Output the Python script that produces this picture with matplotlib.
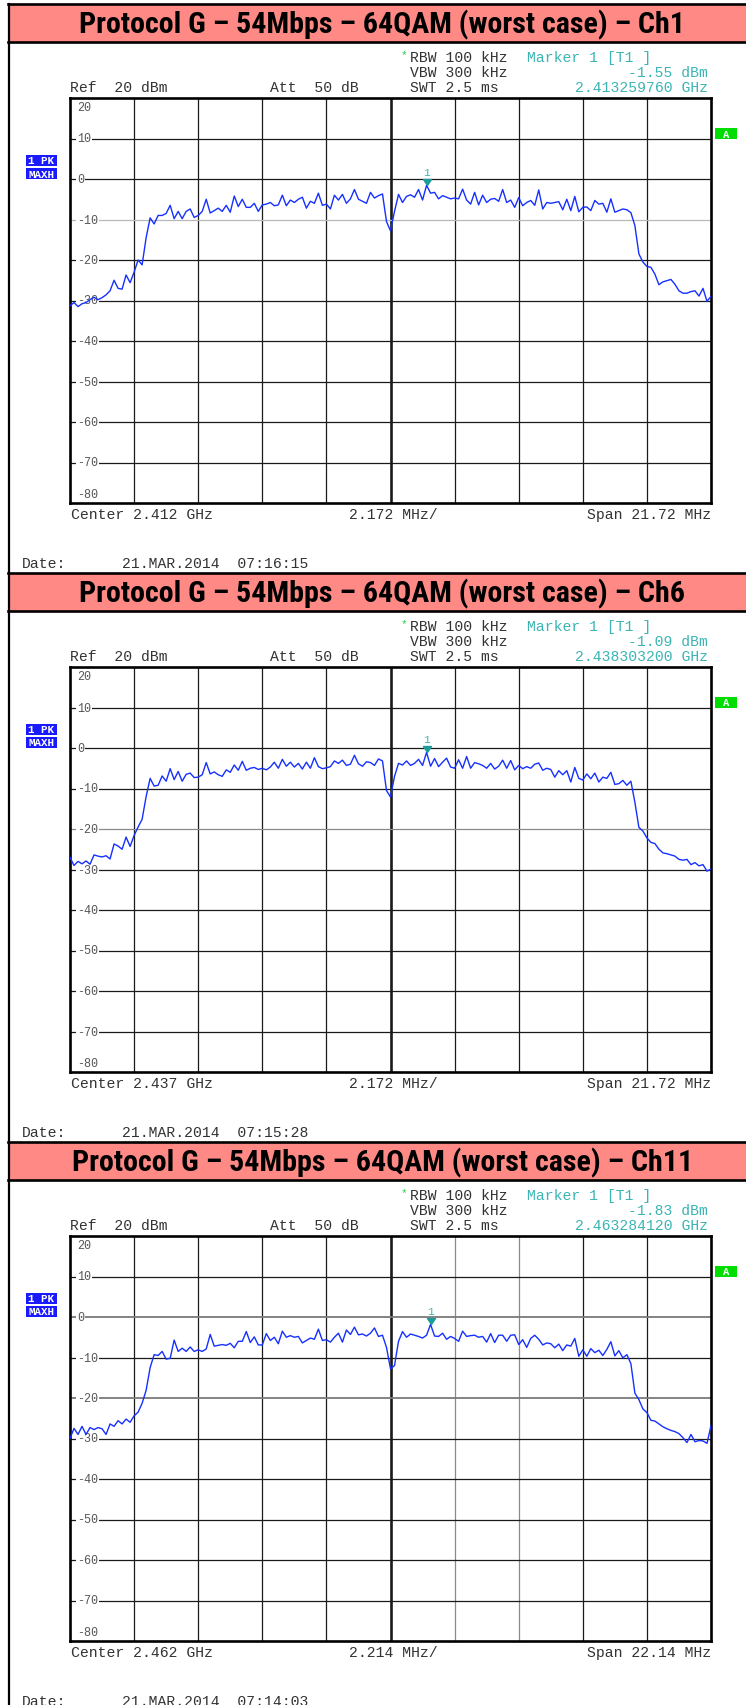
import numpy as np
import matplotlib
matplotlib.use("Agg")
import matplotlib.pyplot as plt
from matplotlib.patches import Rectangle
from matplotlib.lines import Line2D
from matplotlib import font_manager
from matplotlib.textpath import TextPath

# ---------------- data ----------------
titles = ["Protocol G \u2013 54Mbps \u2013 64QAM (worst case) \u2013 Ch1",
          "Protocol G \u2013 54Mbps \u2013 64QAM (worst case) \u2013 Ch6",
          "Protocol G \u2013 54Mbps \u2013 64QAM (worst case) \u2013 Ch11"]
centers_mhz = [2412.0, 2437.0, 2462.0]
center_labels = ["Center 2.412 GHz", "Center 2.437 GHz", "Center 2.462 GHz"]
spans_mhz = [21.72, 21.72, 22.14]
div_labels = ["2.172 MHz/", "2.172 MHz/", "2.214 MHz/"]
span_labels = ["Span 21.72 MHz", "Span 21.72 MHz", "Span 22.14 MHz"]
marker_levels = ["-1.55 dBm", "-1.09 dBm", "-1.83 dBm"]
marker_freqs = ["2.413259760 GHz", "2.438303200 GHz", "2.463284120 GHz"]
dates = ["21.MAR.2014  07:16:15", "21.MAR.2014  07:15:28", "21.MAR.2014  07:14:03"]
ref_level_db = 20
range_db = 100
y_tick_values = [20, 10, 0, -10, -20, -30, -40, -50, -60, -70, -80]

trace_ch1 = [
    -31.3, -30.5, -31.5, -30.8, -30.5, -29.8, -29.2, -29.8, -29.3, -28.6,
    -27.6, -25.0, -27.0, -27.2, -23.7, -25.6, -23.0, -20.0, -21.2, -14.5,
    -9.6, -11.1, -9.0, -9.0, -8.5, -6.5, -9.8, -8.0, -9.8, -8.0,
    -7.4, -9.5, -9.0, -8.0, -5.0, -8.4, -7.8, -7.2, -8.0, -6.5,
    -8.2, -4.2, -6.8, -5.0, -7.0, -7.0, -6.0, -8.0, -6.4, -6.2,
    -5.8, -6.6, -6.4, -4.0, -6.6, -5.2, -5.8, -5.0, -4.5, -7.2,
    -5.5, -6.0, -3.5, -6.5, -6.2, -7.4, -4.0, -5.2, -3.8, -6.0,
    -4.9, -2.6, -5.0, -5.5, -6.0, -3.3, -4.7, -4.1, -3.7, -10.5,
    -12.8, -8.0, -3.8, -5.8, -4.3, -3.9, -4.5, -2.6, -5.2, -1.55,
    -3.5, -3.3, -4.9, -4.1, -4.5, -4.9, -4.7, -4.9, -2.5, -5.2,
    -6.2, -3.3, -6.4, -4.0, -5.8, -5.0, -4.8, -5.5, -2.6, -5.8,
    -5.2, -7.0, -4.6, -6.6, -5.8, -5.3, -6.5, -2.7, -7.4, -5.8,
    -6.0, -5.8, -5.6, -7.6, -5.0, -7.8, -4.3, -8.1, -7.0, -6.9,
    -7.8, -5.3, -6.2, -6.0, -8.2, -4.9, -8.2, -7.8, -7.4, -7.6,
    -8.3, -11.5, -18.5, -20.5, -21.6, -21.8, -23.5, -26.1, -25.4, -25.1,
    -24.8, -26.0, -27.6, -28.2, -28.2, -27.8, -27.6, -28.9, -27.0, -30.2,
    -29.0]

trace_ch6 = [
    -27.0, -29.0, -28.0, -28.6, -27.9, -28.7, -26.4, -26.7, -26.9, -26.6,
    -27.4, -23.7, -24.2, -25.0, -22.0, -24.3, -21.6, -19.5, -17.6, -12.0,
    -7.5, -9.4, -9.2, -6.9, -8.2, -5.1, -7.8, -5.8, -8.2, -6.5,
    -6.2, -7.3, -7.2, -6.6, -3.6, -6.4, -5.9, -6.6, -7.0, -5.4,
    -6.0, -4.2, -5.5, -3.3, -5.5, -5.0, -4.8, -5.3, -5.0, -5.4,
    -4.7, -3.5, -5.0, -2.8, -4.5, -3.5, -4.7, -3.8, -5.2, -3.5,
    -5.0, -2.4, -4.6, -5.1, -4.9, -4.6, -3.2, -3.8, -3.0, -4.3,
    -4.0, -1.8, -3.9, -4.5, -3.4, -3.6, -4.3, -2.7, -3.2, -10.5,
    -12.1, -7.0, -3.8, -4.2, -3.2, -4.3, -3.8, -2.8, -4.3, -1.09,
    -4.5, -2.6, -4.6, -3.5, -2.5, -4.7, -5.0, -2.9, -5.0, -2.1,
    -5.0, -3.6, -3.9, -4.3, -5.0, -3.8, -5.2, -4.5, -3.0, -5.0,
    -3.1, -5.4, -4.3, -5.1, -4.6, -5.0, -4.0, -3.7, -5.5, -5.0,
    -5.3, -7.2, -5.6, -6.6, -5.6, -8.4, -4.8, -7.5, -7.9, -6.4,
    -7.6, -6.2, -8.4, -7.2, -7.5, -6.0, -9.0, -8.8, -8.0, -9.2,
    -8.2, -13.4, -19.6, -20.5, -22.2, -23.3, -23.6, -25.0, -25.9, -26.1,
    -26.4, -26.7, -27.5, -27.7, -27.5, -28.8, -28.3, -29.1, -28.8, -30.4,
    -29.9]

trace_ch11 = [
    -30.0, -27.5, -29.0, -27.0, -29.0, -27.3, -27.8, -27.3, -27.6, -29.0,
    -26.4, -27.0, -25.6, -26.4, -25.2, -26.0, -24.4, -23.5, -21.3, -18.1,
    -12.5, -9.3, -9.5, -8.5, -10.4, -10.2, -5.7, -8.5, -7.7, -8.5,
    -7.4, -8.5, -8.1, -8.5, -7.9, -4.3, -7.2, -7.0, -6.8, -7.0,
    -6.5, -7.6, -6.0, -6.0, -3.6, -6.3, -4.9, -6.9, -6.9, -4.1,
    -5.8, -5.0, -6.6, -3.5, -5.0, -4.6, -5.0, -4.8, -6.4, -5.8,
    -5.2, -5.5, -3.0, -5.8, -5.6, -6.2, -5.0, -4.0, -6.2, -3.2,
    -4.3, -2.5, -4.4, -4.2, -4.7, -4.0, -2.7, -4.8, -4.5, -7.5,
    -12.8, -12.0, -6.0, -3.6, -5.0, -4.2, -4.5, -4.8, -5.2, -4.5,
    -1.83, -4.7, -4.8, -4.0, -5.5, -4.8, -5.3, -6.0, -3.5, -4.8,
    -4.6, -4.5, -5.0, -4.8, -6.2, -4.1, -6.3, -4.5, -4.5, -6.0,
    -4.5, -4.4, -6.8, -5.6, -7.5, -5.3, -4.5, -5.5, -6.9, -6.4,
    -6.6, -7.6, -6.7, -8.3, -6.9, -7.2, -5.3, -9.7, -8.1, -9.7,
    -7.8, -8.8, -8.2, -9.5, -8.0, -6.1, -9.6, -8.3, -10.1, -9.3,
    -11.5, -18.8, -20.4, -22.7, -23.6, -25.5, -25.7, -26.4, -27.1, -27.6,
    -28.0, -28.3, -28.8, -29.8, -31.0, -29.0, -30.8, -30.5, -30.6, -31.2,
    -26.8]

traces = [trace_ch1, trace_ch6, trace_ch11]
for t in traces:
    assert len(t) == 161

# ---------------- styling / layout ----------------
W, H = 746, 1706
fig = plt.figure(figsize=(W / 100, H / 100), dpi=100)
fig.patch.set_facecolor("white")


def fx(x):
    return x / W


def fy(y):
    return 1 - y / H


def pick_title_font():
    cands = [("Liberation Sans Narrow", "normal"), ("Roboto Condensed", "normal"),
             ("Noto Sans Condensed", "normal"), ("Open Sans Condensed", "normal"),
             ("DejaVu Sans Condensed", "normal"),
             ("Noto Sans", "condensed"), ("Roboto", "condensed"), ("DejaVu Sans", "condensed"),
             ("Open Sans", "condensed")]
    for fam, st in cands:
        try:
            fp = font_manager.FontProperties(family=fam, stretch=st, weight="bold")
            path = font_manager.findfont(fp, fallback_to_default=False)
            low = path.lower()
            if st == "normal" or "cond" in low or "narrow" in low:
                return fp
        except Exception:
            pass
    return font_manager.FontProperties(family="Liberation Sans", weight="bold")


TITLE_FP = pick_title_font()
MONO = "Liberation Mono"
TXT = "#333333"
CYAN = "#3cb4b4"
TEAL = "#1d9c9c"
BLUE = "#1530ff"
PINK = "#ff8a85"

PERIOD = 569
PLOT_L, PLOT_R = 70, 711
PLOT_H = 405
MS = 10.6  # mono font size

tri = [(0, 0), (-0.67, 1), (0.67, 1), (0, 0)]

light_h = [{-10: "#b8b8b8"}, {-20: "#8a8a8a"}, {0: "#7a7a7a", -20: "#7a7a7a"}]
light_v = [{}, {}, {6: "#8a8a8a", 7: "#8a8a8a"}]

fig.add_artist(Line2D([fx(8.5), fx(8.5)], [fy(5), fy(H)], color="black", lw=1.6,
                      transform=fig.transFigure))

renderer = fig.canvas.get_renderer()
title_artists = []

for i in range(3):
    T = 5 + PERIOD * i
    fig.add_artist(Rectangle((fx(8.5), fy(T + 38)), fx(W) - fx(8.5), fy(T) - fy(T + 38),
                             transform=fig.transFigure, facecolor=PINK, edgecolor="none",
                             zorder=1))
    for yy in (T, T + 38):
        fig.add_artist(Line2D([fx(7.5), fx(W)], [fy(yy), fy(yy)], color="black", lw=1.9,
                              transform=fig.transFigure, zorder=2))
    tp = TITLE_FP.copy()
    tp.set_size(20)
    tt = fig.text(fx(382.5), fy(T + 20), titles[i], ha="center", va="center",
                  fontproperties=tp, color="black", zorder=3)
    title_artists.append(tt)

    fig.text(fx(PLOT_L), fy(T + 83), "Ref  20 dBm", ha="left", va="center",
             fontsize=MS, family=MONO, color=TXT)
    fig.text(fx(270), fy(T + 83), "Att  50 dB", ha="left", va="center",
             fontsize=MS, family=MONO, color=TXT)
    fig.text(fx(401), fy(T + 50), "*", ha="left", va="center", fontsize=8,
             family=MONO, color="#22cc44")
    fig.text(fx(410), fy(T + 53), "RBW 100 kHz", ha="left", va="center",
             fontsize=MS, family=MONO, color=TXT)
    fig.text(fx(410), fy(T + 68), "VBW 300 kHz", ha="left", va="center",
             fontsize=MS, family=MONO, color=TXT)
    fig.text(fx(410), fy(T + 83), "SWT 2.5 ms", ha="left", va="center",
             fontsize=MS, family=MONO, color=TXT)
    fig.text(fx(527), fy(T + 53), "Marker 1 [T1 ]", ha="left", va="center",
             fontsize=MS, family=MONO, color=CYAN)
    fig.text(fx(708), fy(T + 68), marker_levels[i], ha="right", va="center",
             fontsize=MS, family=MONO, color=CYAN)
    fig.text(fx(708), fy(T + 83), marker_freqs[i], ha="right", va="center",
             fontsize=MS, family=MONO, color=CYAN)

    fig.text(fx(71), fy(T + 510), center_labels[i], ha="left", va="center",
             fontsize=MS, family=MONO, color=TXT)
    fig.text(fx(349), fy(T + 510), div_labels[i], ha="left", va="center",
             fontsize=MS, family=MONO, color=TXT)
    fig.text(fx(711), fy(T + 510), span_labels[i], ha="right", va="center",
             fontsize=MS, family=MONO, color=TXT)
    fig.text(fx(22), fy(T + 559), "Date:", ha="left", va="center",
             fontsize=MS, family=MONO, color=TXT)
    fig.text(fx(122), fy(T + 559), dates[i], ha="left", va="center",
             fontsize=MS, family=MONO, color=TXT)

    for (y0, y1, lab) in ((T + 151, T + 162, "1 PK"), (T + 164, T + 175, "MAXH")):
        fig.add_artist(Rectangle((fx(26), fy(y1)), fx(57) - fx(26), fy(y0) - fy(y1),
                                 transform=fig.transFigure, facecolor="#1a1aff",
                                 edgecolor="none"))
        fig.text(fx(41.5), fy((y0 + y1) / 2), lab, ha="center", va="center",
                 fontsize=7.8, family=MONO, fontweight="bold", color="white")
    fig.add_artist(Rectangle((fx(715), fy(T + 135)), fx(737) - fx(715), fy(T + 124) - fy(T + 135),
                             transform=fig.transFigure, facecolor="#00dd00", edgecolor="none"))
    fig.text(fx(726), fy(T + 129.5), "A", ha="center", va="center", fontsize=7.5,
             family=MONO, fontweight="bold", color="white")

    top = T + 94
    ax = fig.add_axes([fx(PLOT_L), fy(top + PLOT_H), fx(PLOT_R) - fx(PLOT_L), PLOT_H / H])
    c, sp = centers_mhz[i], spans_mhz[i]
    f = np.linspace(c - sp / 2, c + sp / 2, len(traces[i]))
    lev = np.array(traces[i])
    ax.set_xlim(c - sp / 2, c + sp / 2)
    ax.set_ylim(ref_level_db - range_db, ref_level_db)
    ax.set_xticks([])
    ax.set_yticks([])
    for s in ax.spines.values():
        s.set_linewidth(1.9)
        s.set_color("black")

    for d in range(1, 10):
        xv = c - sp / 2 + sp * d / 10
        col = light_v[i].get(d, "#1a1a1a")
        ax.axvline(xv, color=col, lw=1.9 if d == 5 else 0.9, zorder=1)
    for v in y_tick_values[1:-1]:
        col = light_h[i].get(v, "#1a1a1a")
        ax.axhline(v, color=col, lw=1.3 if col != "#1a1a1a" and i == 2 else 0.9, zorder=1)

    ytr = ax.get_yaxis_transform()
    for v in y_tick_values:
        if v == y_tick_values[0]:
            yv, bb = v - 2.3, None
        elif v == y_tick_values[-1]:
            yv, bb = v + 2.3, None
        else:
            yv, bb = v, dict(boxstyle="square,pad=0.1", facecolor="white", edgecolor="none")
        ax.text(7 / 641, yv, str(v), transform=ytr, ha="left", va="center",
                fontsize=8.5, family=MONO, color="#555555", bbox=bb, zorder=2)

    ax.plot(f, lev, color=BLUE, lw=1.0, zorder=5)

    k = int(np.argmax(lev))
    ax.plot([f[k]], [lev[k]], marker=tri, markersize=8.6, color=TEAL, lw=0, zorder=6)
    ax.annotate("1", xy=(f[k], lev[k]), xytext=(0, 9.5), textcoords="offset points",
                ha="center", va="center", fontsize=8, family=MONO, color=CYAN, zorder=7)

# size the titles between the original's width (~627 px) and cap height (~20 px)
w0 = title_artists[0].get_window_extent(renderer).width
size_by_width = 20 * 627.0 / w0 if w0 > 0 else 20
cap_pt = TextPath((0, 0), "H", size=20, prop=TITLE_FP.copy()).get_extents().height
cap_px_at20 = cap_pt * 100 / 72
size_by_cap = 20 * 20.5 / cap_px_at20 if cap_px_at20 > 0 else 20
size = 0.5 * (size_by_width + size_by_cap)
for tt in title_artists:
    tt.set_fontsize(size)

fig.savefig("out.png", dpi=100, facecolor="white")
